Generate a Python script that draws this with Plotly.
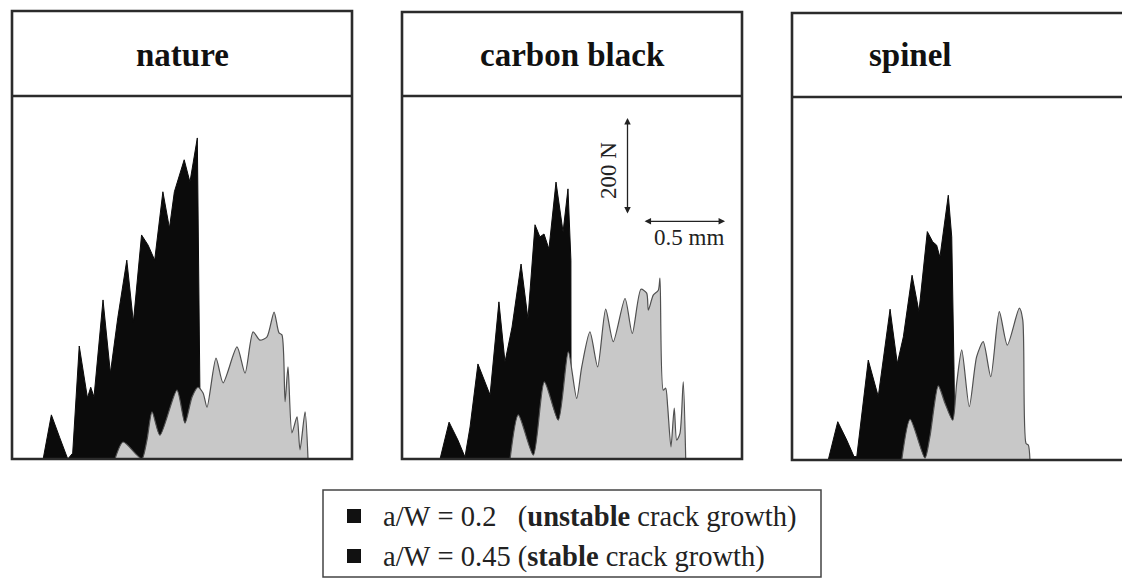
import plotly.graph_objects as go

W, H = 1122, 584

# ---------------- data (displacement in mm, load in N) ----------------
panel_titles = ["nature", "carbon black", "spinel"]
legend_labels = ["a/W\u00a0=\u00a00.2\u00a0\u00a0\u00a0(<b>unstable</b> crack growth)",
                 "a/W\u00a0=\u00a00.45\u00a0(<b>stable</b> crack growth)"]

# nature
nat_unstable_x = [0.19, 0.24, 0.29, 0.34, 0.37, 0.41, 0.46, 0.48, 0.50, 0.555, 0.60, 0.645, 0.70, 0.74,
                  0.79, 0.83, 0.87, 0.92, 0.96, 0.99, 1.05, 1.085, 1.13, 1.145, 1.15]
nat_unstable_y = [0, 91, 45, 0, 12, 233, 126, 148, 128, 328, 177, 291, 410, 282,
                  462, 441, 410, 551, 476, 551, 617, 571, 662, 148, 0]
nat_stable_x = [0.628, 0.677, 0.762, 0.793, 0.823, 0.854, 0.902, 1.006, 1.055, 1.098, 1.134, 1.165, 1.189,
                1.244, 1.287, 1.372, 1.421, 1.470, 1.512, 1.555, 1.598, 1.628, 1.646, 1.665, 1.683,
                1.707, 1.738, 1.756, 1.787, 1.805]
nat_stable_y = [0, 35, 8, 0, 39, 97, 49, 142, 74, 128, 148, 136, 107,
                208, 157, 231, 177, 262, 245, 252, 303, 260, 256, 118, 190,
                54, 87, 19, 97, 0]

# carbon black
cb_unstable_x = [0.232, 0.287, 0.341, 0.384, 0.415, 0.463, 0.537, 0.591, 0.628, 0.671, 0.726, 0.768,
                 0.811, 0.841, 0.866, 0.896, 0.939, 0.982, 1.012, 1.030, 1.031]
cb_unstable_y = [0, 76, 39, 4, 66, 196, 132, 324, 200, 272, 402, 289,
                 483, 458, 464, 433, 571, 468, 557, 410, 0]
cb_stable_x = [0.659, 0.709, 0.801, 0.868, 0.953, 1.014, 1.065, 1.096, 1.146, 1.193, 1.242, 1.288,
               1.360, 1.404, 1.457, 1.492, 1.502, 1.532, 1.563, 1.573, 1.593, 1.608, 1.620,
               1.640, 1.660, 1.675, 1.695, 1.715, 1.730]
cb_stable_y = [0, 91, 8, 159, 80, 221, 125, 190, 262, 190, 309, 242,
               331, 259, 350, 342, 307, 338, 348, 373, 142, 146, 108,
               25, 105, 39, 53, 159, 0]

# spinel
sp_unstable_x = [0.221, 0.279, 0.334, 0.378, 0.395, 0.465, 0.526, 0.598, 0.642, 0.679, 0.732, 0.774,
                 0.825, 0.858, 0.882, 0.902, 0.953, 0.974, 0.988, 0.994]
sp_unstable_y = [0, 79, 41, 7, 7, 206, 131, 311, 199, 254, 381, 306,
                 471, 450, 443, 418, 546, 460, 186, 0]
sp_stable_x = [0.669, 0.720, 0.811, 0.841, 0.892, 0.933, 0.980, 1.004, 1.035, 1.081, 1.126, 1.166,
               1.212, 1.264, 1.313, 1.386, 1.407, 1.427, 1.441, 1.451]
sp_stable_y = [0, 84, 4, 48, 153, 117, 82, 158, 227, 110, 213, 244,
               172, 306, 237, 313, 289, 34, 31, 0]

# scale bars (drawn in the carbon black panel)
scale_force = 200      # N
scale_disp = 0.5       # mm
scale_force_x = 1.375  # mm
scale_force_y0 = 503   # N
scale_disp_x0 = 1.470  # mm
scale_disp_y = 490     # N

# ---------------- layout helpers ----------------
def fx(px):
    return px / W

def fy(py):
    return 1 - py / H

series = [
    (nat_unstable_x, nat_unstable_y, nat_stable_x, nat_stable_y),
    (cb_unstable_x, cb_unstable_y, cb_stable_x, cb_stable_y),
    (sp_unstable_x, sp_unstable_y, sp_stable_x, sp_stable_y),
]

# panel boxes in pixels: left, top, right, bottom, divider
boxes = [(12, 11, 352, 459, 96), (402, 12, 742, 459, 96), (792, 13, 1140, 460, 97)]
title_x = [182, 572, 910]

BLACK = "#0b0b0b"
GRAY_FILL = "#c8c8c8"
GRAY_LINE = "#505050"
FRAME = "#2b2b2b"
FONT = "Liberation Serif"

fig = go.Figure()
layout_axes = {}
for i, ((ux, uy, sx, sy), (l, t, r, b, d)) in enumerate(zip(series, boxes)):
    n = "" if i == 0 else str(i + 1)
    xa, ya = "x" + n, "y" + n
    fig.add_trace(go.Scatter(x=ux, y=uy, mode="lines", fill="tozeroy",
                             line=dict(color=BLACK, width=1), fillcolor=BLACK,
                             xaxis=xa, yaxis=ya, hoverinfo="skip"))
    fig.add_trace(go.Scatter(x=sx, y=sy, mode="lines", fill="tozeroy",
                             line=dict(color=GRAY_LINE, width=1.2, shape="spline", smoothing=0.7),
                             fillcolor=GRAY_FILL, xaxis=xa, yaxis=ya, hoverinfo="skip"))
    right = min(r, W)
    x_span = (right - l) / 164.0
    layout_axes["xaxis" + n] = dict(domain=[fx(l), fx(right)], range=[0, x_span],
                                    visible=False, fixedrange=True, anchor=ya)
    layout_axes["yaxis" + n] = dict(domain=[fy(b), fy(d)], range=[0, (b - d) * 2.062],
                                    visible=False, fixedrange=True, anchor=xa)

shapes = []
annotations = []
for (l, t, r, b, d), tx, title in zip(boxes, title_x, panel_titles):
    shapes.append(dict(type="rect", xref="paper", yref="paper", x0=fx(l), x1=fx(r), y0=fy(b), y1=fy(t),
                       line=dict(color=FRAME, width=2.6), layer="above"))
    shapes.append(dict(type="line", xref="paper", yref="paper", x0=fx(l), x1=fx(r), y0=fy(d), y1=fy(d),
                       line=dict(color=FRAME, width=2.6), layer="above"))
    annotations.append(dict(text="<b>" + title + "</b>", xref="paper", yref="paper",
                            x=fx(tx), y=fy(55), xanchor="center", yanchor="middle", showarrow=False,
                            font=dict(family=FONT, size=33, color="#111")))

# scale bars in carbon black panel
annotations.append(dict(x=scale_force_x, y=scale_force_y0 + scale_force, ax=scale_force_x, ay=scale_force_y0,
                        xref="x2", yref="y2", axref="x2", ayref="y2", showarrow=True, text="",
                        arrowhead=2, startarrowhead=2, arrowside="end+start", arrowsize=1, arrowwidth=1.3,
                        arrowcolor="#222"))
annotations.append(dict(x=scale_disp_x0 + scale_disp, y=scale_disp_y, ax=scale_disp_x0, ay=scale_disp_y,
                        xref="x2", yref="y2", axref="x2", ayref="y2", showarrow=True, text="",
                        arrowhead=2, startarrowhead=2, arrowside="end+start", arrowsize=1, arrowwidth=1.3,
                        arrowcolor="#222"))
annotations.append(dict(text=f"{scale_force} N", x=scale_force_x - 0.115, y=scale_force_y0 + scale_force * 0.46,
                        xref="x2", yref="y2", showarrow=False, textangle=-90,
                        xanchor="center", yanchor="middle", font=dict(family=FONT, size=23, color="#222")))
annotations.append(dict(text=f"{scale_disp} mm", x=scale_disp_x0 + scale_disp * 0.5 + 0.03, y=scale_disp_y - 34,
                        xref="x2", yref="y2", showarrow=False,
                        xanchor="center", yanchor="middle", font=dict(family=FONT, size=23, color="#222")))

# legend box
shapes.append(dict(type="rect", xref="paper", yref="paper", x0=fx(323), x1=fx(821), y0=fy(577), y1=fy(490),
                   line=dict(color="#444", width=1.5)))
for k, (lab, cy) in enumerate(zip(legend_labels, [516, 556])):
    shapes.append(dict(type="rect", xref="paper", yref="paper", x0=fx(347), x1=fx(361),
                       y0=fy(cy + 7), y1=fy(cy - 7), fillcolor="#111", line=dict(width=0)))
    annotations.append(dict(text=lab, xref="paper", yref="paper", x=fx(381), y=fy(cy + 1),
                            xanchor="left", yanchor="middle", showarrow=False,
                            font=dict(family=FONT, size=28.5, color="#222")))

fig.update_layout(width=W, height=H, margin=dict(l=0, r=0, t=0, b=0),
                  paper_bgcolor="white", plot_bgcolor="white", showlegend=False,
                  shapes=shapes, annotations=annotations, **layout_axes)

fig.write_html("out.html", config={"displayModeBar": False})
